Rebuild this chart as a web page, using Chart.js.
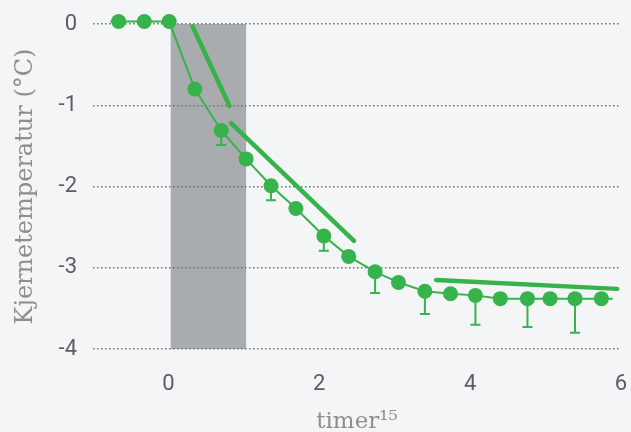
<!DOCTYPE html>
<html>
<head>
<meta charset="utf-8">
<script src="https://cdn.jsdelivr.net/npm/chart.js@4/dist/chart.umd.min.js"></script>
<style>
  html, body { margin: 0; padding: 0; background: #f4f5f6; }
  #wrap { width: 631px; height: 432px; }
</style>
</head>
<body>
<div id="wrap"><canvas id="c" width="631" height="432"></canvas></div>
<script>
// Time after start (hours) and mean core temperature (°C)
const timeHours = [-0.66, -0.32, 0.01, 0.35, 0.70, 1.03, 1.36, 1.69, 2.06, 2.39,
                   2.74, 3.05, 3.40, 3.74, 4.07, 4.40, 4.76, 5.06, 5.39, 5.74];
const coreTemp = [0.03, 0.03, 0.03, -0.80, -1.31, -1.66, -1.99, -2.27, -2.61, -2.86,
                  -3.05, -3.18, -3.29, -3.32, -3.34, -3.38, -3.38, -3.38, -3.38, -3.38];
// Lower end of the error bar (null = no bar)
const errLow = [null, null, null, null, -1.49, null, -2.17, null, -2.79, null,
                -3.31, null, -3.57, null, -3.70, null, -3.73, null, -3.80, null];
// Connecting line runs a little past the first and last measurement
const lineStart = { x: -0.77, y: 0.03 };
const lineEnd = { x: 5.89, y: -3.38 };
// Cooling-rate trend lines
const trendA = [{ x: 0.32, y: -0.03 }, { x: 0.81, y: -1.01 }];
const trendB = [{ x: 0.83, y: -1.22 }, { x: 2.46, y: -2.67 }];
const trendC = [{ x: 3.55, y: -3.15 }, { x: 5.95, y: -3.26 }];
// Shaded exposure period (hours)
const exposureWindow = [0.03, 1.03];
// Axis ticks
const xTicks = [0, 2, 4, 6];
const yTicks = [0, -1, -2, -3, -4];

const GREEN = '#36b34b';

const points = timeHours.map((t, i) => ({ x: t, y: coreTemp[i] }));
const linePoints = [lineStart, ...points, lineEnd];

const backdrop = {
  id: 'backdrop',
  beforeDraw(chart) {
    const { ctx, scales: { x, y } } = chart;
    ctx.save();
    ctx.fillStyle = '#f4f5f6';
    ctx.fillRect(0, 0, chart.width, chart.height);
    const x0 = x.getPixelForValue(exposureWindow[0]);
    const x1 = x.getPixelForValue(exposureWindow[1]);
    const yTop = y.getPixelForValue(yTicks[0]);
    const yBot = y.getPixelForValue(yTicks[yTicks.length - 1]);
    ctx.fillStyle = '#a9acaf';
    ctx.fillRect(x0, yTop, x1 - x0, yBot - yTop);
    ctx.restore();
  }
};

const errorBars = {
  id: 'errorBars',
  beforeDatasetsDraw(chart) {
    const { ctx, scales: { x, y } } = chart;
    ctx.save();
    ctx.strokeStyle = GREEN;
    ctx.lineWidth = 2;
    timeHours.forEach((t, i) => {
      if (errLow[i] === null) return;
      const px = x.getPixelForValue(t);
      const py = y.getPixelForValue(coreTemp[i]);
      const pl = y.getPixelForValue(errLow[i]);
      ctx.beginPath();
      ctx.moveTo(px, py);
      ctx.lineTo(px, pl);
      ctx.moveTo(px - 5, pl);
      ctx.lineTo(px + 5, pl);
      ctx.stroke();
    });
    ctx.restore();
  }
};

const trend = (data) => ({
  type: 'line', data, borderColor: GREEN, borderWidth: 4.5,
  borderCapStyle: 'round', pointRadius: 0, clip: false, order: 3
});

new Chart(document.getElementById('c'), {
  type: 'line',
  data: {
    datasets: [
      trend(trendA), trend(trendB), trend(trendC),
      { data: linePoints, borderColor: GREEN, borderWidth: 2, pointRadius: 0,
        clip: false, order: 2 },
      { data: points, showLine: false, pointRadius: 7.5, pointBackgroundColor: GREEN,
        pointBorderWidth: 0, clip: false, order: 1 }
    ]
  },
  options: {
    responsive: false,
    animation: false,
    layout: { padding: { top: 24, right: 10, left: 0, bottom: 0 } },
    plugins: { legend: { display: false }, tooltip: { enabled: false } },
    scales: {
      x: {
        type: 'linear', min: -1, max: 6,
        afterBuildTicks: (s) => { s.ticks = xTicks.map(v => ({ value: v })); },
        afterFit: (s) => { s.height = 83; s.paddingLeft = 0; s.paddingRight = 0; },
        grid: { display: false },
        border: { display: false },
        ticks: { color: '#5a5e62', font: { family: 'Roboto', size: 22 }, padding: 14 },
        title: { display: true, text: 'timer¹⁵', color: '#8e8e8e',
                 font: { family: 'DejaVu Serif', size: 23 }, padding: { top: 0, bottom: -4 } }
      },
      y: {
        min: -4, max: 0,
        afterBuildTicks: (s) => { s.ticks = yTicks.map(v => ({ value: v })); },
        afterFit: (s) => { s.width = 93; s.paddingTop = 0; s.paddingBottom = 0; },
        grid: { color: '#707070', lineWidth: 1.5, drawTicks: false },
        border: { display: false, dash: [1.5, 2.5] },
        ticks: { color: '#5a5e62', font: { family: 'Roboto', size: 22 }, padding: 16 },
        title: { display: true, text: 'Kjernetemperatur (°C)', color: '#8e8e8e',
                 font: { family: 'DejaVu Serif', size: 24 }, padding: { top: 11 } }
      }
    }
  },
  plugins: [backdrop, errorBars]
});
</script>
</body>
</html>
